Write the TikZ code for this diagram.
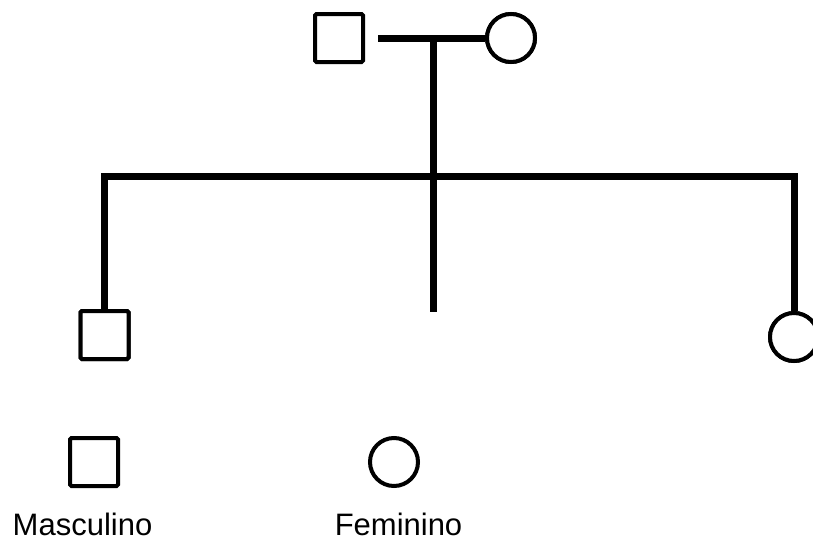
\documentclass[tikz,border=0pt]{standalone}
\usepackage{fontspec}
\setmainfont{Liberation Sans}
\begin{document}
\begin{tikzpicture}[x=1pt,y=-1pt,
  male/.style={draw=black,line width=4pt,rectangle,rounded corners=1.5pt,minimum size=48pt,inner sep=0pt},
  female/.style={draw=black,line width=4pt,circle,minimum size=48pt,inner sep=0pt},
  link/.style={draw=black,line width=7pt,line join=miter},
  linkshadow/.style={draw=black!22,line width=7pt,line join=miter},
  legend/.style={font=\fontsize{31}{36}\selectfont,anchor=base,inner sep=0pt}]
\useasboundingbox (0,0) rectangle (813,538);

% parents
\node[male] (father) at (339,38) {};
\node[female] (mother) at (511,38) {};
% children
\node[male] (son) at (104.5,335) {};
\node[female] (daughter) at (794,337) {};

% junction points of the lines
\coordinate (union) at (433.5,38);
\coordinate (bar) at (433.5,176);
\coordinate (stemend) at (433.5,312);
\coordinate (unionstart) at ([xshift=13pt]father.east);

% soft shadow under the lines
\begin{scope}[shift={(1.5,2.5)}]
  \draw[linkshadow] (unionstart) -- (mother.west);
  \draw[linkshadow] (union) -- (stemend);
  \draw[linkshadow] (son.north) -- (son.north |- bar) -- (daughter.north |- bar) -- (daughter.north);
\end{scope}

% marriage line and descent lines
\draw[link] (unionstart) -- (mother.west);
\draw[link] (union) -- (stemend);
\draw[link] (son.north) -- (son.north |- bar) -- (daughter.north |- bar) -- (daughter.north);

% redraw symbols on top
\node[male,fill=white] at (son) {};
\node[female,fill=white] at (daughter) {};
\node[female,fill=white] at (mother) {};

% legend
\node[male] (legm) at (94,462) {};
\node[female] (legf) at (394,462) {};
\node[legend] (legmtext) at (82.5,535) {Masculino};
\node[legend] (legftext) at (398.5,535) {Feminino};
\end{tikzpicture}
\end{document}
